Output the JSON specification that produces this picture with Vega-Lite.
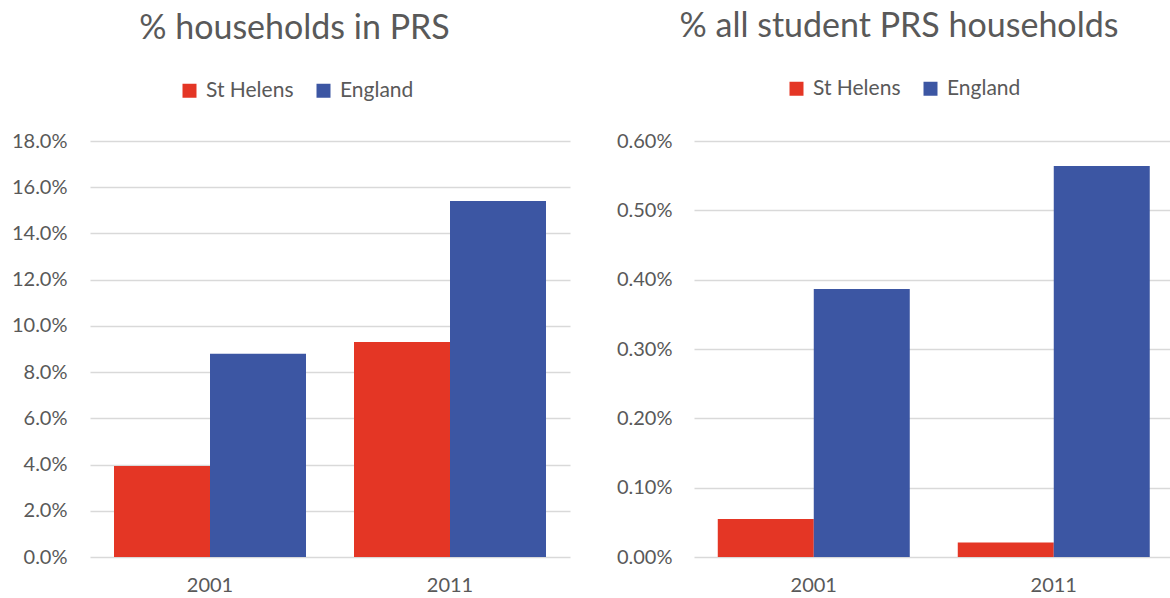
{
  "$schema": "https://vega.github.io/schema/vega-lite/v6.json",
  "background": "white",
  "padding": {"left": 5, "top": 10, "right": 0, "bottom": 0},
  "spacing": 24,
  "datasets": {
    "prs": [
      {"year": "2001", "area": "St Helens", "value": 0.0394},
      {"year": "2001", "area": "England", "value": 0.0879},
      {"year": "2011", "area": "St Helens", "value": 0.0930},
      {"year": "2011", "area": "England", "value": 0.1540}
    ],
    "student": [
      {"year": "2001", "area": "St Helens", "value": 0.000548},
      {"year": "2001", "area": "England", "value": 0.003866},
      {"year": "2011", "area": "St Helens", "value": 0.00021},
      {"year": "2011", "area": "England", "value": 0.00564}
    ]
  },
  "config": {
    "font": "Lato",
    "view": {"stroke": null},
    "axis": {
      "labelColor": "#595959",
      "labelFont": "Lato",
      "labelFontSize": 20,
      "domain": false,
      "ticks": false,
      "title": null,
      "gridColor": "#d9d9d9",
      "gridWidth": 1.5
    },
    "legend": {
      "labelColor": "#595959",
      "labelFont": "Lato",
      "labelFontSize": 21,
      "symbolType": "square",
      "symbolSize": 196,
      "symbolStrokeWidth": 0,
      "labelOffset": 6,
      "columnPadding": 19,
      "padding": 0,
      "title": null
    },
    "title": {
      "font": "Lato",
      "fontSize": 34,
      "fontWeight": "normal",
      "color": "#595959",
      "anchor": "middle",
      "frame": "bounds"
    }
  },
  "resolve": {"legend": {"color": "independent"}, "scale": {"color": "independent"}},
  "hconcat": [
    {
      "width": 480,
      "height": 416,
      "title": {"text": "% households in PRS", "offset": 34, "dx": 7},
      "data": {"name": "prs"},
      "mark": {"type": "bar"},
      "encoding": {
        "x": {
          "field": "year", "type": "nominal",
          "scale": {"paddingInner": 0.2, "paddingOuter": 0.1},
          "axis": {"labelAngle": 0, "labelPadding": 18, "grid": false}
        },
        "xOffset": {"field": "area", "type": "nominal", "sort": ["St Helens", "England"], "scale": {"paddingInner": 0, "paddingOuter": 0}},
        "y": {
          "field": "value", "type": "quantitative",
          "scale": {"domain": [0, 0.18]},
          "axis": {"format": ".1%", "values": [0, 0.02, 0.04, 0.06, 0.08, 0.1, 0.12, 0.14, 0.16, 0.18], "labelPadding": 23, "minExtent": 85, "maxExtent": 85}
        },
        "color": {
          "field": "area", "type": "nominal",
          "scale": {"domain": ["St Helens", "England"], "range": ["#e43625", "#3c56a3"]},
          "legend": {"orient": "none", "direction": "horizontal", "legendX": 89, "legendY": -61}
        }
      }
    },
    {
      "width": 476,
      "height": 416,
      "title": {"text": "% all student PRS households", "offset": 34, "dx": 17},
      "data": {"name": "student"},
      "mark": {"type": "bar"},
      "encoding": {
        "x": {
          "field": "year", "type": "nominal",
          "scale": {"paddingInner": 0.2, "paddingOuter": 0.0917, "align": 0.54},
          "axis": {"labelAngle": 0, "labelPadding": 18, "grid": false}
        },
        "xOffset": {"field": "area", "type": "nominal", "sort": ["St Helens", "England"], "scale": {"paddingInner": 0, "paddingOuter": 0}},
        "y": {
          "field": "value", "type": "quantitative",
          "scale": {"domain": [0, 0.006]},
          "axis": {"format": ".2%", "values": [0, 0.001, 0.002, 0.003, 0.004, 0.005, 0.006], "labelPadding": 22, "minExtent": 100, "maxExtent": 100}
        },
        "color": {
          "field": "area", "type": "nominal",
          "scale": {"domain": ["St Helens", "England"], "range": ["#e43625", "#3c56a3"]},
          "legend": {"orient": "none", "direction": "horizontal", "legendX": 92, "legendY": -63}
        }
      }
    }
  ]
}
